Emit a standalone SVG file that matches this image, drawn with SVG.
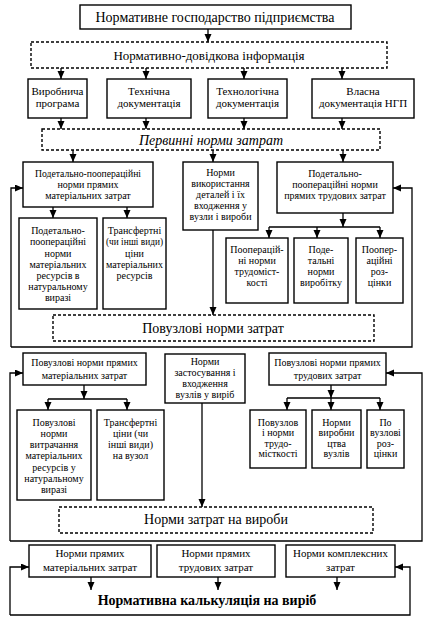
<svg xmlns="http://www.w3.org/2000/svg" width="427" height="622" viewBox="0 0 427 622">
<style>
.b{fill:#fff;stroke:#000;stroke-width:1.4}
.d{fill:#fff;stroke:#000;stroke-width:1.4;stroke-dasharray:3,2}
.c{fill:none;stroke:#000;stroke-width:1.3}
text{font-family:"Liberation Serif","Times New Roman",serif;fill:#000;text-anchor:middle}
.t14{font-size:14px}
.t13{font-size:13px}
.t11{font-size:11px}
.t10{font-size:10px}
.t9{font-size:10px}
</style>
<defs>
<marker id="ah" markerUnits="userSpaceOnUse" markerWidth="9" markerHeight="8" refX="8" refY="3.5" orient="auto">
<path d="M0,0 L8,3.5 L0,7 z" fill="#000"/>
</marker>
</defs>
<rect width="427" height="622" fill="#fff"/>

<g id="connectors" class="c" marker-end="url(#ah)">
<path d="M208,29 V42"/>
<path d="M61,68 V79"/><path d="M146,68 V79"/><path d="M244,68 V79"/><path d="M342,68 V79"/>
<path d="M61,118 V129"/><path d="M146,118 V129"/><path d="M244,118 V129"/><path d="M342,118 V129"/>
<path d="M73,150 V162"/><path d="M213,150 V162"/><path d="M343,150 V162"/>
<path d="M53,207 V218"/><path d="M127,207 V218"/>
<path d="M213,230 V315"/>
<path d="M343,213 V227"/>
<path d="M317,227 V238"/>
<path d="M269,227 H380" marker-end="none"/>
<path d="M269,227 V238"/><path d="M380,227 V238"/>
<path d="M11,347 V188 H23"/>
<path d="M11,347 H412 V188 H393"/>
<path d="M84,385 V399"/>
<path d="M48,399 H127" marker-end="none"/>
<path d="M48,399 V410"/><path d="M127,399 V410"/>
<path d="M202,403 V507"/>
<path d="M331,385 V398"/>
<path d="M287,398 H380" marker-end="none"/>
<path d="M287,398 V410"/><path d="M331,398 V410"/><path d="M380,398 V410"/>
<path d="M10,541 V373 H23"/>
<path d="M10,541 H422 V373 H386"/>
<path d="M91,577 V590"/><path d="M218,577 V590"/><path d="M337,577 V590"/>
<path d="M10,615 V567 H29"/>
<path d="M10,615 H410 V567 H395"/>
</g>

<g id="n-top"><rect class="b" x="80" y="5" width="271" height="24"/><text class="t14" x="215" y="22">Нормативне господарство підприємства</text></g>
<g id="n-info"><rect class="d" x="31" y="42" width="356" height="26"/><text class="t13" x="209" y="59.5">Нормативно-довідкова інформація</text></g>

<g id="n-prog"><rect class="b" x="28" y="79" width="59" height="39"/><text class="t11" x="57.5" y="95">Виробнича</text><text class="t11" x="57.5" y="107">програма</text></g>
<g id="n-tech"><rect class="b" x="107" y="79" width="84" height="39"/><text class="t11" x="149" y="95">Технічна</text><text class="t11" x="149" y="107">документація</text></g>
<g id="n-techn"><rect class="b" x="208" y="79" width="79" height="39"/><text class="t11" x="247.5" y="95">Технологічна</text><text class="t11" x="247.5" y="107">документація</text></g>
<g id="n-own"><rect class="b" x="312" y="79" width="102" height="39"/><text class="t11" x="363" y="95">Власна</text><text class="t11" x="363" y="107">документація НГП</text></g>

<g id="n-prim"><rect class="d" x="42" y="129" width="338" height="21"/><text class="t14" x="211" y="145" font-style="italic">Первинні норми затрат</text></g>

<g id="n-a"><rect class="b" x="23" y="162" width="130" height="45"/>
<text class="t10" x="88" y="176.5" textLength="106" lengthAdjust="spacingAndGlyphs">Подетально-пооперацiйнi</text><text class="t10" x="88" y="187.5">норми прямих</text><text class="t10" x="88" y="198.5">матеріальних затрат</text></g>
<g id="n-b"><rect class="b" x="183" y="162" width="75" height="68"/>
<text class="t10" x="220.5" y="175.5">Норми</text><text class="t10" x="220.5" y="186.5">використання</text><text class="t10" x="220.5" y="197.5">деталей і їх</text><text class="t10" x="220.5" y="208.5">входження у</text><text class="t10" x="220.5" y="219.5">вузли і вироби</text></g>
<g id="n-c"><rect class="b" x="277" y="162" width="116" height="51"/>
<text class="t10" x="335" y="176.5">Подетально-</text><text class="t10" x="335" y="187.5">пооперацiйнi норми</text><text class="t10" x="335" y="198.5">прямих трудових затрат</text></g>

<g id="n-a1"><rect class="b" x="19" y="218" width="78" height="91"/>
<text class="t10" x="58" y="233.5">Подетально-</text><text class="t10" x="58" y="245">пооперацiйнi</text><text class="t10" x="58" y="256.5">норми</text><text class="t10" x="58" y="268">матеріальних</text><text class="t10" x="58" y="279">ресурсів в</text><text class="t10" x="58" y="290">натуральному</text><text class="t10" x="58" y="301">виразі</text></g>
<g id="n-a2"><rect class="b" x="103" y="218" width="63" height="91"/>
<text class="t10" x="134.5" y="233.5">Трансфертні</text><text class="t10" x="134.5" y="245" textLength="57" lengthAdjust="spacingAndGlyphs">(чи інші види)</text><text class="t10" x="134.5" y="256.5">ціни</text><text class="t10" x="134.5" y="268">матеріальних</text><text class="t10" x="134.5" y="279">ресурсів</text></g>

<g id="n-c1"><rect class="b" x="226" y="238" width="62" height="65"/>
<text class="t10" x="257" y="252.5">Пооперацій-</text><text class="t10" x="257" y="263.5">ні норми</text><text class="t10" x="257" y="275">трудоміст-</text><text class="t10" x="257" y="286">кості</text></g>
<g id="n-c2"><rect class="b" x="294" y="238" width="54" height="65"/>
<text class="t10" x="321" y="252.5">Поде-</text><text class="t10" x="321" y="263.5">тальні</text><text class="t10" x="321" y="275">норми</text><text class="t10" x="321" y="286">виробітку</text></g>
<g id="n-c3"><rect class="b" x="356" y="238" width="47" height="65"/>
<text class="t10" x="379.5" y="252.5">Поопер-</text><text class="t10" x="379.5" y="263.5">аційні</text><text class="t10" x="379.5" y="275">роз-</text><text class="t10" x="379.5" y="286">цінки</text></g>

<g id="n-uzl"><rect class="d" x="53" y="315" width="321" height="26"/><text class="t14" x="213" y="333">Повузлові норми затрат</text></g>

<g id="n-d"><rect class="b" x="23" y="353" width="123" height="32"/>
<text class="t9" x="84.5" y="365.5">Повузлові норми прямих</text><text class="t9" x="84.5" y="378.5">матеріальних затрат</text></g>
<g id="n-e"><rect class="b" x="165" y="354" width="80" height="49"/>
<text class="t9" x="205" y="364.5">Норми</text><text class="t9" x="205" y="375.5">застосування і</text><text class="t9" x="205" y="386.5">входження</text><text class="t9" x="205" y="397.5">вузлів у виріб</text></g>
<g id="n-f"><rect class="b" x="269" y="353" width="117" height="32"/>
<text class="t9" x="327.5" y="365.5">Повузлові норми прямих</text><text class="t9" x="327.5" y="378.5">трудових затрат</text></g>

<g id="n-d1"><rect class="b" x="17" y="410" width="74" height="90"/>
<text class="t10" x="54" y="425.5">Повузлові</text><text class="t10" x="54" y="436.5">норми</text><text class="t10" x="54" y="447.5">витрачання</text><text class="t10" x="54" y="459">матеріальних</text><text class="t10" x="54" y="470.5">ресурсів у</text><text class="t10" x="54" y="481.5">натуральному</text><text class="t10" x="54" y="492.5">виразі</text></g>
<g id="n-d2"><rect class="b" x="97" y="410" width="67" height="90"/>
<text class="t10" x="130.5" y="425.5">Трансфертні</text><text class="t10" x="130.5" y="436.5">ціни (чи</text><text class="t10" x="130.5" y="447.5">інші види)</text><text class="t10" x="130.5" y="459">на вузол</text></g>

<g id="n-f1"><rect class="b" x="250" y="410" width="56" height="58"/>
<text class="t10" x="278" y="425.5">Повузлов</text><text class="t10" x="278" y="435.5">і норми</text><text class="t10" x="278" y="446.5">трудо-</text><text class="t10" x="278" y="456.5">місткості</text></g>
<g id="n-f2"><rect class="b" x="312" y="410" width="49" height="58"/>
<text class="t10" x="336.5" y="425.5">Норми</text><text class="t10" x="336.5" y="435.5">виробни</text><text class="t10" x="336.5" y="446.5">цтва</text><text class="t10" x="336.5" y="456.5">вузлів</text></g>
<g id="n-f3"><rect class="b" x="367" y="410" width="37" height="58"/>
<text class="t10" x="385.5" y="425.5">По</text><text class="t10" x="385.5" y="435.5">вузлові</text><text class="t10" x="385.5" y="446.5">роз-</text><text class="t10" x="385.5" y="456.5">цінки</text></g>

<g id="n-vyr"><rect class="d" x="59" y="507" width="314" height="26"/><text class="t14" x="216" y="524">Норми затрат на вироби</text></g>

<g id="n-g1"><rect class="b" x="29" y="545" width="122" height="32"/>
<text class="t11" x="90" y="557">Норми прямих</text><text class="t11" x="90" y="571">матеріальних затрат</text></g>
<g id="n-g2"><rect class="b" x="157" y="545" width="118" height="32"/>
<text class="t11" x="216" y="557">Норми прямих</text><text class="t11" x="216" y="571">трудових затрат</text></g>
<g id="n-g3"><rect class="b" x="286" y="545" width="109" height="32"/>
<text class="t11" x="340.5" y="557">Норми комплексних</text><text class="t11" x="340.5" y="571">затрат</text></g>

<g id="n-calc"><text class="t14" x="207" y="605" font-weight="bold">Нормативна калькуляція на виріб</text></g>
</svg>
